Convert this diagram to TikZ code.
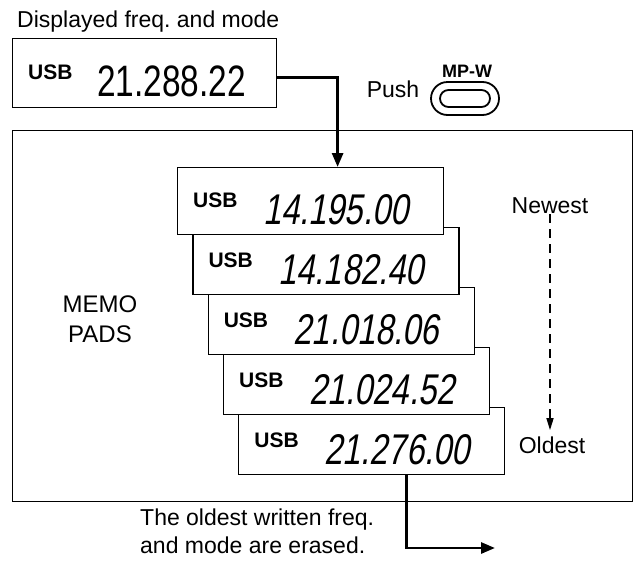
\documentclass[tikz,border=0pt]{standalone}
\usepackage{fontspec}
\setmainfont{Liberation Sans}
\newfontfamily\digitup[FakeStretch=0.76]{Liberation Sans}
\newfontfamily\digitit[FakeStretch=0.76,FakeSlant=0.18]{Liberation Sans}
\usetikzlibrary{arrows.meta,calc,shapes.misc}
\frenchspacing
\begin{document}
\begin{tikzpicture}[x=1pt,y=-1pt,
  txt/.style={inner sep=0pt,font=\fontsize{23}{27.6}\selectfont},
  lcd/.style={draw,line width=1.2pt,fill=white,minimum width=266pt,minimum height=67pt,anchor=north west,inner sep=0pt},
  usb/.style={inner sep=0pt,anchor=base west,font=\fontsize{21}{24}\selectfont\bfseries},
  freqit/.style={inner sep=0pt,anchor=base west,font=\fontsize{43}{50}\digitit},
  frequp/.style={inner sep=0pt,anchor=base west,font=\fontsize{44}{50}\digitup},
  conn/.style={line width=2.8pt,line join=miter,-{Triangle[length=14pt,width=11pt]}},
  dasharrow/.style={line width=1.5pt,dash pattern=on 9pt off 6pt,-{Triangle[length=12pt,width=7pt]}},
  btnshape/.style={draw,line width=1.8pt,rounded rectangle,inner sep=0pt}
]
\useasboundingbox (0,0) rectangle (642,576);

% title
\node[txt,anchor=base west] (title) at (17,27) {Displayed freq. and mode};

% displayed box
\node[lcd,minimum width=264pt,minimum height=69pt] (disp) at (12,38) {};
\node[usb] (du) at ($(disp.south west)+(16,-29)$) {USB};
\node[frequp] (df) at ($(disp.south west)+(85,-12)$) {21.288.22};

% push button
\node[txt,anchor=base] (push) at (393,97) {Push};
\node[btnshape,minimum width=68pt,minimum height=33pt] (btn) at (465,98.5) {};
\node[btnshape,minimum width=50pt,minimum height=17pt] (btnin) at (btn.center) {};
\node[inner sep=0pt,anchor=base,font=\fontsize{18}{20}\selectfont\bfseries] (mpw) at (467,77) {MP-W};

% memo pad frame
\node[draw,line width=1.3pt,minimum width=620pt,minimum height=371pt,anchor=north west,inner sep=0pt] (frame) at (12,130) {};
\node[inner sep=0pt,anchor=north,align=center,font=\fontsize{24}{30}\selectfont] (memo) at (100,296) {MEMO\\PADS};

% memo boxes (oldest first so newest lies on top)
\node[lcd] (m5) at (238.2,407) {};
\node[usb] (u5) at ($(m5.south west)+(16,-28)$) {USB};
\node[freqit] (f5) at ($(m5.south west)+(86,-11)$) {21.276.00};

\node[lcd] (m4) at (222.9,347) {};
\node[usb] (u4) at ($(m4.south west)+(16,-28)$) {USB};
\node[freqit] (f4) at ($(m4.south west)+(86,-11)$) {21.024.52};

\node[lcd] (m3) at (207.6,287) {};
\node[usb] (u3) at ($(m3.south west)+(16,-28)$) {USB};
\node[freqit] (f3) at ($(m3.south west)+(86,-11)$) {21.018.06};

\node[lcd] (m2) at (192.3,227) {};
\node[usb] (u2) at ($(m2.south west)+(16,-28)$) {USB};
\node[freqit] (f2) at ($(m2.south west)+(86,-11)$) {14.182.40};

\node[lcd] (m1) at (177,167) {};
\node[usb] (u1) at ($(m1.south west)+(16,-28)$) {USB};
\node[freqit] (f1) at ($(m1.south west)+(86,-11)$) {14.195.00};

% newest / oldest
\node[txt,anchor=base] (newest) at (550,213) {Newest};
\node[txt,anchor=base] (oldest) at (552,453) {Oldest};
\draw[dasharrow] ([yshift=-1pt]newest.south) -- ([yshift=6pt]newest.south |- oldest.north);

% connectors
\draw[conn] ([yshift=-4.5pt]disp.east) -| ([xshift=27pt]m1.north);
\coordinate (gone) at (495,548);
\draw[conn] ([xshift=35pt]m5.south) |- (gone);

% bottom text
\node[txt,anchor=north west,align=left] (erased) at (140,509) {The oldest written freq.\\and mode are erased.};
\end{tikzpicture}
\end{document}
